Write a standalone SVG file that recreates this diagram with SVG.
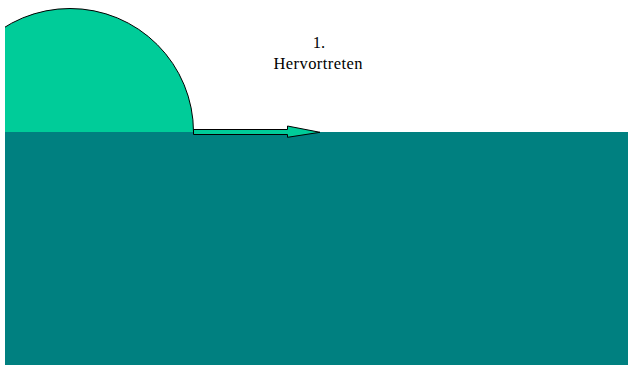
<svg xmlns="http://www.w3.org/2000/svg" width="628" height="365" viewBox="0 0 628 365">
<style>
.lbl{font-family:"Liberation Serif","Times New Roman",serif;font-size:16.5px;fill:#000;text-anchor:middle}
</style>
<defs>
<clipPath id="c"><rect x="5" y="0" width="623" height="132"/></clipPath>
</defs>
<rect width="628" height="365" fill="#fff"/>
<g id="drop">
<circle cx="70" cy="132" r="123.5" fill="#00CC99" stroke="#000" stroke-width="1" clip-path="url(#c)"/>
</g>
<g id="surface">
<rect x="5" y="132" width="623" height="233" fill="#008080"/>
</g>
<g id="connectors">
<path d="M193.5,129.5 H287.5 V126 L320,132.3 L287.5,137.3 V134.5 H193.5 Z" fill="#00CC99" stroke="#000" stroke-width="1"/>
</g>
<g id="label">
<text class="lbl" x="319" y="48">1.</text>
<text class="lbl" x="318" y="69" textLength="89" lengthAdjust="spacing">Hervortreten</text>
</g>
</svg>
